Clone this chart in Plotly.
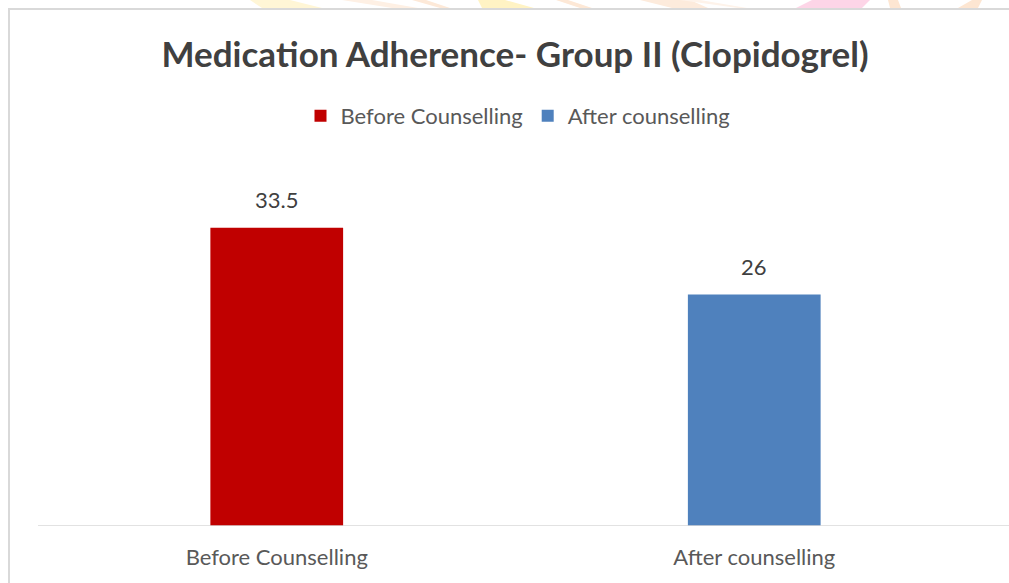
import plotly.graph_objects as go

# Chart data
categories = ["Before Counselling", "After counselling"]
values = [33.5, 26]
colors = ["#C00000", "#4F81BD"]
title_text = "Medica\u200Ction Adherence- Group II (Clopidogrel)"

W, H = 1009, 583
ML, MR, MT, MB = 38, 16, 170, 57
plot_w = W - ML - MR
plot_h = H - MT - MB

FONT = "Lato"

fig = go.Figure()
for cat, val, col in zip(categories, values, colors):
    fig.add_trace(go.Bar(
        x=[cat], y=[val], name=cat,
        marker=dict(color=col, line=dict(width=0)),
        width=0.278,
    ))
    # value label above each bar
    fig.add_annotation(
        x=cat, y=val, text=f"{val:g}", showarrow=False,
        yanchor="middle", yshift=28,
        font=dict(family=FONT, size=22, color="#404040"),
    )

def px_x(p):
    return (p - ML) / plot_w

def px_y(p):
    return (H - MB - p) / plot_h

# faint page decoration peeking above the chart frame: (x_top_left, x_top_right, x_bot_right, x_bot_left, colour)
deco = [
    (250, 290, 322, 262, "#FFF6D6"),
    (342, 372, 418, 392, "#FEF0E4"),
    (412, 426, 450, 440, "#FDE9D8"),
    (478, 505, 534, 482, "#FFF3C4"),
    (556, 568, 592, 580, "#FDE8D6"),
    (640, 690, 708, 672, "#FDEBDC"),
    (680, 700, 747, 738, "#FEF3EA"),
    (812, 870, 862, 796, "#FDD5E7"),
    (888, 898, 901, 890, "#FDE6D2"),
    (972, 982, 978, 958, "#FDE6D2"),
]
deco_shapes = []
for xa, xb, xc, xd, c in deco:
    path = (f"M{px_x(xa)},{px_y(0)} L{px_x(xb)},{px_y(0)} "
            f"L{px_x(xc)},{px_y(8)} L{px_x(xd)},{px_y(8)} Z")
    deco_shapes.append(dict(type="path", xref="paper", yref="paper", path=path,
                            fillcolor=c, line=dict(width=0), layer="below"))

fig.update_layout(
    width=W, height=H,
    margin=dict(l=ML, r=MR, t=MT, b=MB),
    paper_bgcolor="white", plot_bgcolor="white",
    barmode="overlay",
    title=dict(
        text=f"<b>{title_text}</b>",
        x=px_x(515), xanchor="center", xref="paper",
        y=1 - 55 / H, yanchor="middle", yref="container",
        font=dict(family=FONT, size=35, color="#404040"),
    ),
    legend=dict(
        orientation="h", x=px_x(518), xanchor="center",
        y=px_y(116), yanchor="middle",
        font=dict(family=FONT, size=22, color="#595959"),
        itemclick=False, tracegroupgap=0,
    ),
    xaxis=dict(
        showgrid=False, showline=False, zeroline=False,
        tickfont=dict(family=FONT, size=22, color="#595959"),
        ticks="", ticklabelstandoff=16,
    ),
    yaxis=dict(range=[0, 40], visible=False),
    shapes=deco_shapes + [
        # outer chart border
        dict(type="rect", xref="paper", yref="paper",
             x0=px_x(9), x1=px_x(W + 20), y0=px_y(H + 20), y1=px_y(9),
             line=dict(color="#D9D9D9", width=2), layer="below"),
        # category axis baseline
        dict(type="line", xref="paper", yref="y",
             x0=0, x1=px_x(W + 5), y0=0, y1=0,
             line=dict(color="#D9D9D9", width=1.5)),
    ],
)

fig.write_html("out.html")
